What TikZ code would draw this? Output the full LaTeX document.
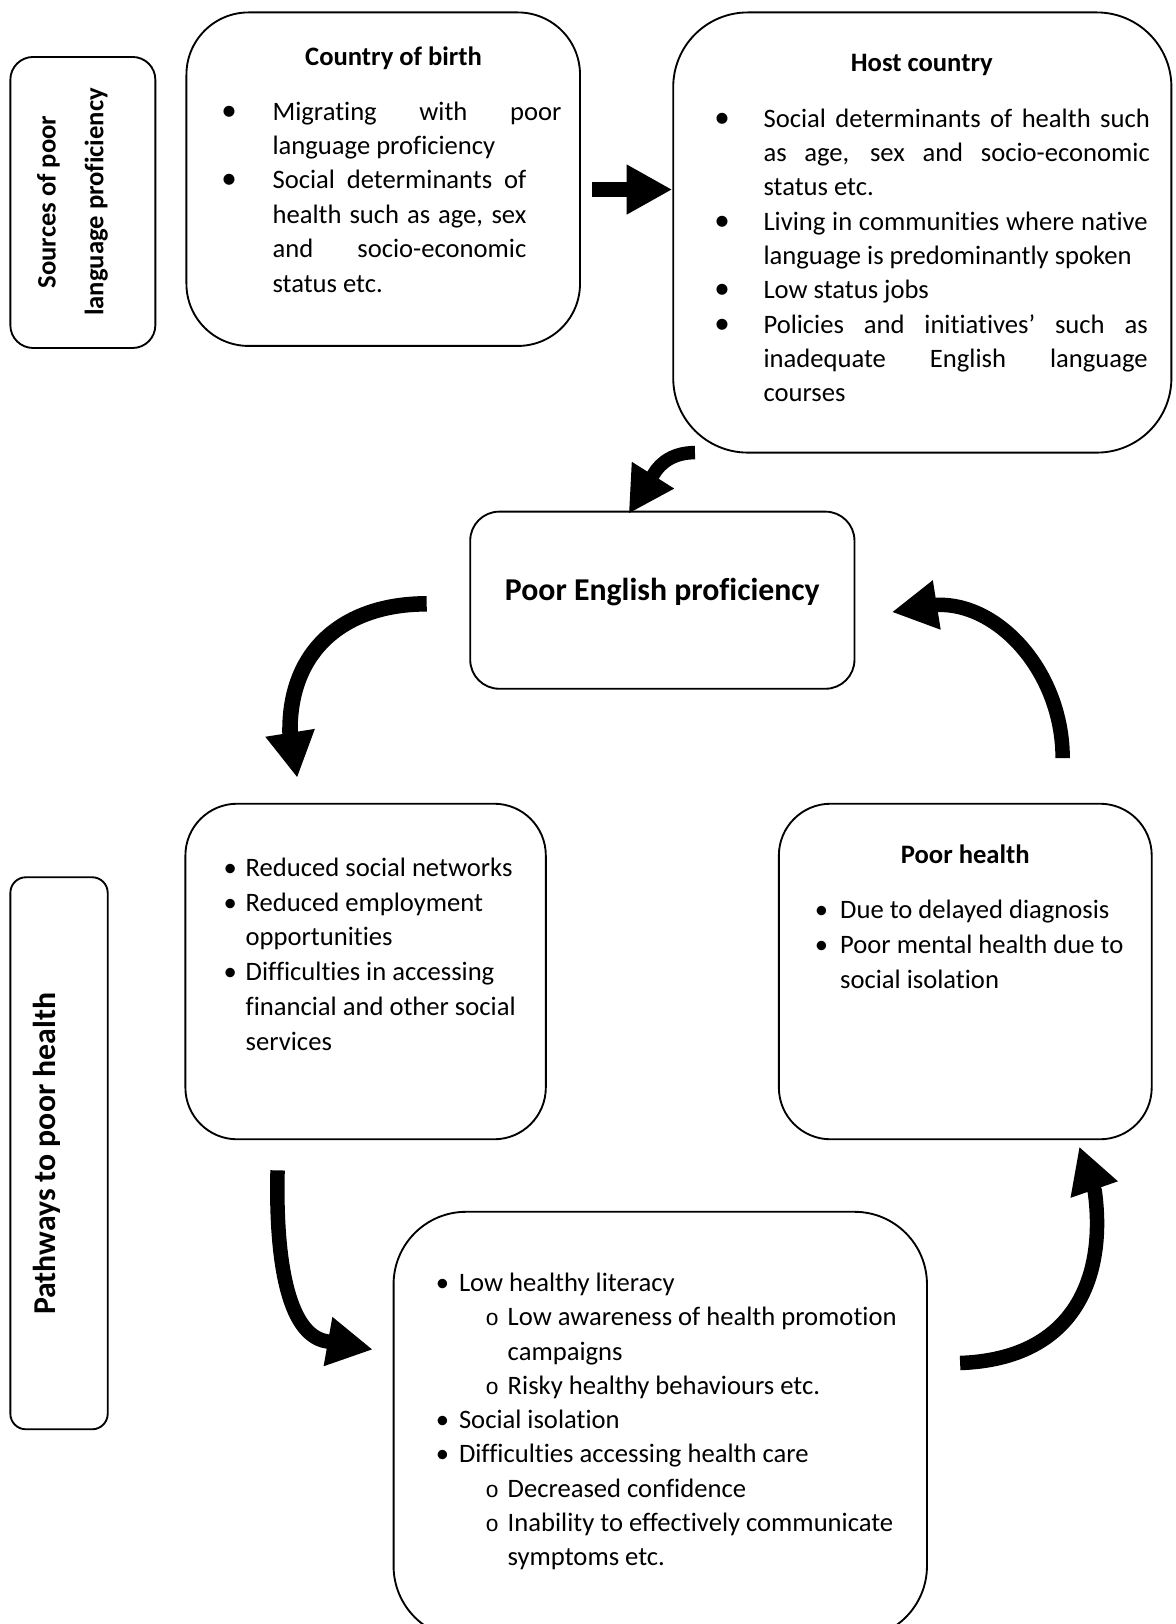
\documentclass[tikz,border=0pt]{standalone}
\usepackage{fontspec}
\setmainfont{Carlito}[Ligatures=NoCommon]
\newfontfamily\monofont{Liberation Mono}
\usetikzlibrary{arrows.meta}

\newcommand\bodyfont{\fontsize{25.7}{33.2}\selectfont}
\newcommand\headfont{\fontsize{30.7}{46}\selectfont\bfseries}
% list markers
\newcommand\bulA{{\fontsize{30}{30}\selectfont\char"2022}}
\newcommand\bulB{\char"2022}
\newcommand\subo{{\fontsize{22}{22}\selectfont\monofont o}}
% list lines: bullet centred on the left edge, text after a gap
\newcommand\Item[3]{\hbox{\makebox[0pt]{#1}\hspace*{#2}#3}}
\newcommand\Cont[2]{\hbox{\hspace*{#1}#2}}
\newcommand\Sub[1]{\hbox{\hspace*{48pt}\makebox[0pt]{\subo}\hspace*{15pt}#1}}
\newcommand\Just[2]{\makebox[#1][s]{#2}}

\begin{document}
\begin{tikzpicture}[x=1pt,y=-1pt,
  box/.style={draw, line width=1.8pt, rectangle, inner sep=0pt},
  txt/.style={inner sep=0pt, anchor=base west, font=\bodyfont},
  ttl/.style={inner sep=0pt, anchor=base, font=\bodyfont\bfseries},
  bigarrow/.style={line width=14pt, -{Triangle[length=44pt,width=45pt]}}]

\path[use as bounding box] (0,0) rectangle (1135,1568);
\clip (0,0) rectangle (1135,1568);

% ---- sources of poor language proficiency ----
\node[box, minimum width=140pt, minimum height=281pt, rounded corners=22pt] (src) at (80,195.5) {};
\node[inner sep=0pt, rotate=90, align=center, font=\fontsize{25.7}{46}\selectfont\bfseries] (srclbl) at (70,195) {Sources of poor\\language proficiency};

\node[box, minimum width=380pt, minimum height=322pt, rounded corners=60pt] (cob) at (370,173) {};
\node[ttl] (cobttl) at (380,63) {Country of birth};
\node[txt] (coblist) at (221,116) {\vtop{\baselineskip=33.2pt
  \Item{\bulA}{42pt}{\Just{279pt}{Migrating with poor}}
  \Cont{42pt}{language proficiency}
  \Item{\bulA}{42pt}{\Just{245pt}{Social determinants of}}
  \Cont{42pt}{\Just{245pt}{health such as age, sex}}
  \Cont{42pt}{\Just{245pt}{and socio-economic}}
  \Cont{42pt}{status etc.}}};

\node[box, minimum width=481pt, minimum height=425pt, rounded corners=72pt] (host) at (890.5,224.5) {};
\node[ttl] (hostttl) at (890,69) {Host country};
\node[txt] (hostlist) at (697,123) {\vtop{\baselineskip=33.1pt
  \Item{\bulA}{40pt}{\Just{373pt}{Social determinants of health such}}
  \Cont{40pt}{\Just{373pt}{as age, sex and socio-economic}}
  \Cont{40pt}{status etc.}
  \Item{\bulA}{40pt}{\Just{371pt}{Living in communities where native}}
  \Cont{40pt}{language is predominantly spoken}
  \Item{\bulA}{40pt}{Low status jobs}
  \Item{\bulA}{40pt}{\Just{371pt}{Policies and initiatives’ such as}}
  \Cont{40pt}{\Just{371pt}{inadequate English language}}
  \Cont{40pt}{courses}}};

% ---- central problem ----
\node[box, minimum width=371pt, minimum height=171pt, rounded corners=28pt] (pe) at (639.5,579.5) {};
\node[inner sep=0pt, anchor=base, font=\headfont] (pettl) at (639.5,580) {Poor English proficiency};

% ---- pathways to poor health ----
\node[box, minimum width=94pt, minimum height=533pt, rounded corners=15pt] (pw) at (57,1113.5) {};
\node[inner sep=0pt, rotate=90, font=\headfont] (pwlbl) at (45,1114) {Pathways to poor health};

\node[box, minimum width=348pt, minimum height=324pt, rounded corners=50pt] (soc) at (353,938) {};
\node[txt] (soclist) at (222,846) {\vtop{\baselineskip=33.6pt
  \Item{\bulB}{15pt}{Reduced social networks}
  \Item{\bulB}{15pt}{Reduced employment}
  \Cont{15pt}{opportunities}
  \Item{\bulB}{15pt}{Difficulties in accessing}
  \Cont{15pt}{financial and other social}
  \Cont{15pt}{services}}};

\node[box, minimum width=360pt, minimum height=324pt, rounded corners=50pt] (ph) at (932,938) {};
\node[ttl] (phttl) at (932,834) {Poor health};
\node[txt] (phlist) at (793,887) {\vtop{\baselineskip=33.5pt
  \Item{\bulB}{18pt}{Due to delayed diagnosis}
  \Item{\bulB}{18pt}{Poor mental health due to}
  \Cont{18pt}{social isolation}}};

\node[box, minimum width=515pt, minimum height=412pt, rounded corners=70pt] (hc) at (637.5,1376) {};
\node[txt] (hclist) at (427,1247) {\vtop{\baselineskip=33.1pt
  \Item{\bulB}{16pt}{Low healthy literacy}
  \Sub{Low awareness of health promotion}
  \Cont{63pt}{campaigns}
  \Sub{Risky healthy behaviours etc.}
  \Item{\bulB}{16pt}{Social isolation}
  \Item{\bulB}{16pt}{Difficulties accessing health care}
  \Sub{Decreased confidence}
  \Sub{Inability to effectively communicate}
  \Cont{63pt}{symptoms etc.}}};

% ---- arrows ----
\coordinate (a0) at (572,183);
\draw[bigarrow, line width=15pt] (a0) -- (a0 -| host.west);

\coordinate (a1) at (671,437);
\coordinate (a1t) at (607,496);
\draw[bigarrow, line width=13pt] (a1) .. controls (651,437) and (638,446) .. (631,458) -- (a1t);

\coordinate (a2) at (412,583);
\coordinate (a2t) at (287,751);
\draw[bigarrow, line width=15pt] (a2) .. controls (332,583) and (279,628) .. (280,707) -- (a2t);

\coordinate (a3) at (1026,732);
\coordinate (a3t) at (861,591);
\draw[bigarrow, line width=14pt] (a3) .. controls (1026,650) and (965,582) .. (905,584) -- (a3t);

\coordinate (a4) at (268,1130);
\coordinate (a4t) at (360,1303);
\draw[bigarrow, line width=14pt] (a4) .. controls (266,1210) and (276,1288) .. (315,1295) -- (a4t);

\coordinate (a5) at (927,1316);
\coordinate (a5t) at (1042,1107);
\draw[bigarrow, line width=14pt] (a5) .. controls (1040,1312) and (1068,1230) .. (1057,1150) -- (a5t);

\end{tikzpicture}
\end{document}
